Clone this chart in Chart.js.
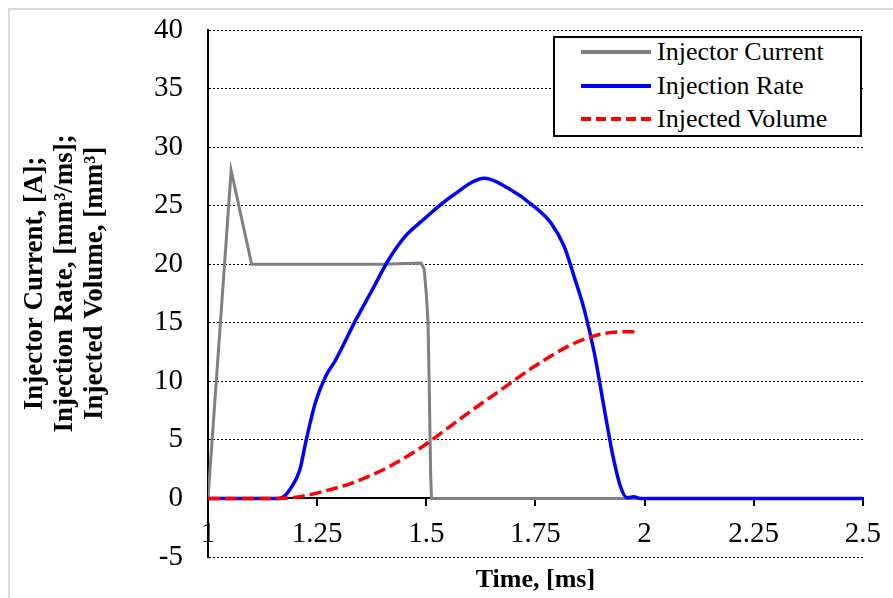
<!DOCTYPE html>
<html>
<head>
<meta charset="utf-8">
<script src="https://cdn.jsdelivr.net/npm/chart.js@4.4.1/dist/chart.umd.min.js"></script>
<style>
  html, body { margin: 0; padding: 0; background: #fff; }
  #wrap { position: relative; width: 893px; height: 598px; overflow: hidden; }
  #frame { position: absolute; left: 8px; top: 8px; width: 1000px; height: 1000px; border: 2px solid #d9d9d9; }
  #chart { position: absolute; left: 0; top: 0; }
  #legend { position: absolute; left: 553px; top: 36px; width: 305px; height: 97px; border: 2px solid #000; background: #fff;
            font-family: "Liberation Serif", "Times New Roman", serif; font-size: 26px; color: #000; }
  .lg-row { position: absolute; left: 0; height: 30px; display: flex; align-items: center; white-space: nowrap; }
  .lg-row svg { margin-left: 26px; margin-right: 6px; }
</style>
</head>
<body>
<div id="wrap">
  <div id="frame"></div>
  <canvas id="chart" width="893" height="598"></canvas>
  <div id="legend"></div>
</div>
<script>
// values

const timeTicks = [1, 1.25, 1.5, 1.75, 2, 2.25, 2.5];
const yTicks = [-5, 0, 5, 10, 15, 20, 25, 30, 35, 40];

// Injector Current [A]
const currentTime  = [1.0, 1.053, 1.1, 1.2, 1.3, 1.4, 1.488, 1.495, 1.5, 1.504, 1.507, 1.51, 1.512, 2.5];
const currentValue = [0,   28,    20,  20,  20,  20,  20.1,  19.6,  17.5, 15,   9,     2,    0,     0];

// Injection Rate [mm3/ms]
const rateTime  = [1.0, 1.16, 1.175, 1.19, 1.21, 1.225, 1.246, 1.269, 1.292, 1.338, 1.376, 1.414, 1.452, 1.49, 1.558, 1.634, 1.687, 1.748, 1.786, 1.816, 1.839, 1.862, 1.885, 1.907, 1.926, 1.945, 1.96, 1.975, 1.99, 2.5];
const rateValue = [0,   0,    0.2,   0.9,  2.4,  5.0,   8.2,   10.4,  11.8,  15.2,  17.8,  20.4,  22.4,  23.7, 25.8,  27.35, 26.5,  24.9,  23.5,  21.5,  18.9,  16.1,  12.4,  7.8,   3.9,   1.0,   0.05, 0.15,  0,    0];

// Injected Volume [mm3]
const volumeTime  = [1.0, 1.16, 1.21, 1.262, 1.338, 1.414, 1.49, 1.52, 1.595, 1.671, 1.747, 1.823, 1.877, 1.922, 1.982];
const volumeValue = [0,   0,    0.15, 0.58,  1.43,  2.7,   4.4,  5.2,  7.27,  9.27,  11.26, 12.96, 13.8,  14.16, 14.25];

const seriesNames = ["Injector Current", "Injection Rate", "Injected Volume"];
const seriesColors = ["#808080", "#0000ff", "#ff0000"];

function pts(xs, ys){ return xs.map((x, i) => ({ x: x, y: ys[i] })); }

Chart.defaults.font.family = "'Liberation Serif', 'Times New Roman', serif";
Chart.defaults.color = "#000";

const datasets = [
  { label: seriesNames[0], data: pts(currentTime, currentValue), borderColor: seriesColors[0], borderWidth: 3,
    tension: 0, order: 2 },
  { label: seriesNames[1], data: pts(rateTime, rateValue), borderColor: seriesColors[1], borderWidth: 3.5,
    cubicInterpolationMode: "monotone", order: 1 },
  { label: seriesNames[2], data: pts(volumeTime, volumeValue), borderColor: seriesColors[2], borderWidth: 3.5,
    borderDash: [12, 5], cubicInterpolationMode: "monotone", order: 0 }
];
datasets.forEach(d => { d.pointRadius = 0; d.fill = false; });

// leading spaces nudge the rotated title a bit up, excel has it off-centre
const yTitle = ["   Injector Current, [A];", "   Injection Rate, [mm³/ms];", "   Injected Volume, [mm³]"];

new Chart(document.getElementById("chart"), {
  type: "line",
  data: { datasets },
  options: {
    responsive: false,
    animation: false,
    devicePixelRatio: 1,
    layout: { padding: { left: 0, top: 30, right: 25, bottom: 41 } },
    plugins: { legend: { display: false }, tooltip: { enabled: false } },
    scales: {
      x: {
        type: "linear",
        position: { y: 0 },
        min: 1, max: 2.5,
        afterBuildTicks: s => { s.ticks = timeTicks.map(v => ({ value: v })); },
        ticks: { font: { size: 29 }, padding: 12, maxRotation: 0, callback: v => String(v) },
        grid: { drawOnChartArea: false, drawTicks: true, tickLength: 7, color: "#000", lineWidth: 2 },
        border: { display: true, color: "#000", width: 2 },
        title: { display: true, text: "Time, [ms]", font: { size: 26, weight: "bold" }, padding: { top: 0, bottom: 0 } }
      },
      y: {
        type: "linear",
        min: -5, max: 40,
        afterBuildTicks: s => { s.ticks = yTicks.map(v => ({ value: v })); },
        afterFit: s => { s.width = 208; },
        // gap between labels and axis comes from an invisible tick, tick padding would also pad the top
        ticks: { font: { size: 29 }, padding: 0 },
        grid: { drawTicks: true, tickLength: 25, tickColor: "rgba(0,0,0,0)", color: "#000", lineWidth: 1 },
        border: { display: true, color: "#000", width: 2, dash: [2, 2] },
        title: {
          display: true,
          text: yTitle,
          font: { size: 27, weight: "bold", lineHeight: 1.11 },
          padding: { top: 20, bottom: 0 }
        }
      }
    }
  }
});

// legend box drawn as html, like the excel one
const legend = document.getElementById("legend");
legend.innerHTML = datasets.map((d, i) => {
  const dash = d.borderDash ? `stroke-dasharray="10 5"` : "";
  return `<div class="lg-row" style="top:${-1 + i * 33.5}px">
    <svg width="70" height="8"><line x1="0" y1="4" x2="70" y2="4" stroke="${d.borderColor}" stroke-width="4" ${dash}/></svg>
    <span>${d.label}</span></div>`;
}).join("");
</script>
</body>
</html>
